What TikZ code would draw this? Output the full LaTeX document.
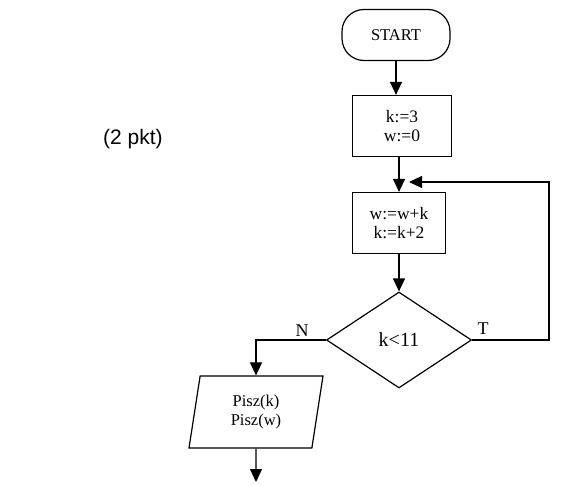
\documentclass[tikz,border=0pt]{standalone}
\usepackage{fontspec}
\setmainfont{Liberation Serif}
\newfontfamily\labelsans{Liberation Sans}
\usetikzlibrary{shapes.geometric,arrows.meta}
\begin{document}
\begin{tikzpicture}[x=1pt,y=-1pt,
  line width=1.2pt,
  arr/.style={-{Triangle[length=13pt,width=12pt]}},
  term/.style={draw, rectangle, rounded corners=22pt, minimum width=108pt, minimum height=51pt, inner sep=0pt, font=\fontsize{16.5}{19}\selectfont},
  procbox/.style={draw, rectangle, minimum height=61pt, inner sep=0pt, align=center, font=\fontsize{17.5}{18.5}\selectfont},
  decision/.style={draw, diamond, minimum width=145pt, minimum height=96pt, inner sep=0pt, font=\fontsize{20}{23}\selectfont},
  iobox/.style={draw, trapezium, trapezium left angle=71.6, trapezium right angle=108.4, trapezium stretches body, minimum width=134pt, minimum height=72pt, inner sep=0pt, align=center, font=\fontsize{16.5}{18.5}\selectfont},
  branch/.style={font=\fontsize{18}{20}\selectfont, inner sep=0pt}
]
\useasboundingbox (0,0) rectangle (568,485);
\fill[white] (0,0) rectangle (568,485);

\node[term] (start) at (396,35) {START};
\node[procbox, minimum width=99pt] (init) at (402,126) {k:=3\\w:=0};
\node[procbox, minimum width=93pt] (body) at (399,223) {w:=w+k\\k:=k+2};
\node[decision] (dec) at (399,340) {k<11};
\node[iobox] (out) at (256,412) {Pisz(k)\\Pisz(w)};

\node[branch] (nlab) at (302,331) {N};
\node[branch] (tlab) at (483,329) {T};
\node[font=\labelsans\fontsize{21}{24}\selectfont, inner sep=0pt] (pts) at (133,139) {(2 pkt)};

\coordinate (loopc) at (549,182);
\coordinate (loopin) at (409,182);
\coordinate (stop) at (256,482);

\draw[arr] (start.south) -- (start.south |- init.north);
\draw[arr] (body.north |- init.south) -- (body.north);
\draw[arr] (body.south) -- (dec.north);
\draw[arr] (dec.east) -| (loopc) -- (loopin);
\draw[arr] (dec.west) -| (out.north);
\draw[arr] (out.south) -- (stop);
\end{tikzpicture}
\end{document}
